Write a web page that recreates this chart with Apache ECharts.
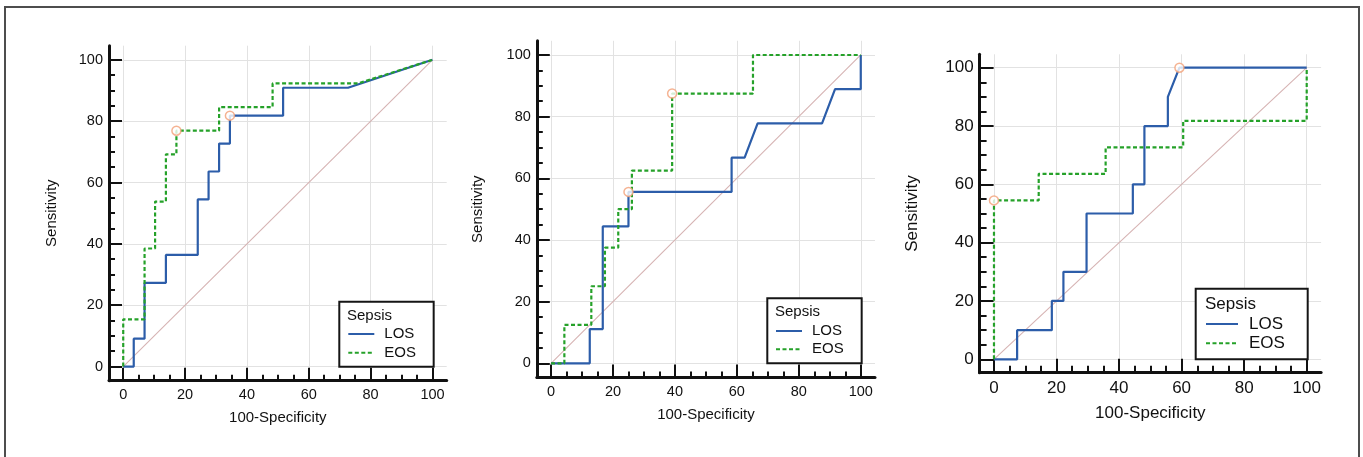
<!DOCTYPE html>
<html>
<head>
<meta charset="utf-8">
<script src="https://cdn.jsdelivr.net/npm/echarts@6/dist/echarts.min.js"></script>
<style>
  html, body { margin: 0; padding: 0; background: #ffffff; }
  #chart { width: 1363px; height: 457px; }
</style>
</head>
<body>
<div id="chart"></div>
<script>
// ROC curves (sensitivity against 100-specificity) for late- and early-onset sepsis, three panels.

const majorTicks = [0, 20, 40, 60, 80, 100];
const minorTicks = [5, 10, 15, 25, 30, 35, 45, 50, 55, 65, 70, 75, 85, 90, 95];
const legendNames = ['LOS', 'EOS'];
const legendTitle = 'Sepsis';
const xAxisName = '100-Specificity';
const yAxisName = 'Sensitivity';
const referenceLine = [[0, 0], [100, 100]];

// Panel 1
const panel1LOS = [[0, 0], [3.4, 0], [3.4, 9.1], [6.9, 9.1], [6.9, 27.3], [13.8, 27.3], [13.8, 36.4],
  [24.1, 36.4], [24.1, 54.5], [27.6, 54.5], [27.6, 63.6], [31.0, 63.6], [31.0, 72.7], [34.5, 72.7],
  [34.5, 81.8], [51.7, 81.8], [51.7, 90.9], [72.7, 90.9], [100, 100]];
const panel1EOS = [[0, 0], [0, 15.4], [6.9, 15.4], [6.9, 38.5], [10.3, 38.5], [10.3, 53.8], [13.8, 53.8],
  [13.8, 69.2], [17.2, 69.2], [17.2, 76.9], [31.0, 76.9], [31.0, 84.6], [48.3, 84.6], [48.3, 92.3],
  [75.9, 92.3], [100, 100]];
const panel1Cutoffs = [[17.2, 76.9], [34.5, 81.8]];

// Panel 2
const panel2LOS = [[0, 0], [12.5, 0], [12.5, 11.1], [16.7, 11.1], [16.7, 44.4], [25.0, 44.4], [25.0, 55.6],
  [58.3, 55.6], [58.3, 66.7], [62.5, 66.7], [66.7, 77.8], [87.5, 77.8], [91.7, 88.9], [100, 88.9], [100, 100]];
const panel2EOS = [[0, 0], [4.3, 0], [4.3, 12.5], [13.0, 12.5], [13.0, 25.0], [17.4, 25.0], [17.4, 37.5],
  [21.7, 37.5], [21.7, 50.0], [26.1, 50.0], [26.1, 62.5], [39.1, 62.5], [39.1, 87.5], [65.2, 87.5],
  [65.2, 100], [100, 100]];
const panel2Cutoffs = [[25.0, 55.6], [39.1, 87.5]];

// Panel 3
const panel3LOS = [[0, 0], [7.4, 0], [7.4, 10], [18.5, 10], [18.5, 20], [22.2, 20], [22.2, 30], [29.6, 30],
  [29.6, 50], [44.4, 50], [44.4, 60], [48.1, 60], [48.1, 80], [55.6, 80], [55.6, 90], [59.3, 100], [100, 100]];
const panel3EOS = [[0, 0], [0, 54.5], [14.3, 54.5], [14.3, 63.6], [35.7, 63.6], [35.7, 72.7], [60.5, 72.7],
  [60.5, 81.8], [100, 81.8], [100, 100]];
const panel3Cutoffs = [[59.3, 100], [0, 54.5]];

// Styling and placement
const AXIS_MIN = -4.6;
const AXIS_MAX = 104.6;
const FONT = "'Liberation Sans', Arial, sans-serif";
const INK = '#111111';
const LOS_COLOR = '#2c5da9';
const EOS_COLOR = '#25a129';

const panels = [
  {
    los: panel1LOS, eos: panel1EOS, cut: panel1Cutoffs,
    grid: { left: 109, top: 45.7, width: 337.7, height: 335 },
    tickFont: 14.5, nameFont: 15, yNameGap: 50, xNameGap: 30, majorLen: 13, minorLen: 6,
    legend: { left: 339.3, top: 301.7, padding: [24.8, 17.7, 6.5, 8], itemWidth: 26, itemGap: 3.7, textPad: 5, font: 15 },
    title: { left: 347, top: 308.5, font: 15 }
  },
  {
    los: panel2LOS, eos: panel2EOS, cut: panel2Cutoffs,
    grid: { left: 536.8, top: 40.8, width: 338.2, height: 336.7 },
    tickFont: 14.5, nameFont: 15, yNameGap: 51, xNameGap: 30, majorLen: 13, minorLen: 6,
    legend: { left: 767.3, top: 298.3, padding: [25.2, 18, 6.5, 7.7], itemWidth: 26, itemGap: 3.3, textPad: 5, font: 15 },
    title: { left: 775, top: 304.8, font: 15 }
  },
  {
    los: panel3LOS, eos: panel3EOS, cut: panel3Cutoffs,
    grid: { left: 979.6, top: 54.3, width: 341.5, height: 318.4 },
    tickFont: 17, nameFont: 17, yNameGap: 59, xNameGap: 32, majorLen: 14, minorLen: 7,
    legend: { left: 1195.7, top: 288.7, padding: [26.8, 22.8, 7.5, 9.3], itemWidth: 32, itemGap: 2.3, textPad: 6, font: 17 },
    title: { left: 1205, top: 295.8, font: 17 }
  }
];

function mainAxis(p, idx, dim) {
  const isX = dim === 'x';
  return {
    type: 'value', gridIndex: idx, min: AXIS_MIN, max: AXIS_MAX,
    position: isX ? 'bottom' : 'left',
    name: isX ? xAxisName : yAxisName,
    nameLocation: 'middle',
    nameGap: isX ? p.xNameGap : p.yNameGap,
    nameTextStyle: { fontFamily: FONT, fontSize: p.nameFont, color: INK },
    axisLine: { show: true, onZero: false, lineStyle: { color: '#111', width: 3 } },
    axisTick: { show: true, inside: true, length: p.majorLen, customValues: majorTicks, lineStyle: { color: '#111', width: 2 } },
    axisLabel: { show: true, customValues: majorTicks, margin: isX ? 7 : 6, fontFamily: FONT, fontSize: p.tickFont, color: INK },
    splitLine: { show: true, lineStyle: { color: '#e2e2e2', width: 1 } },
    minorTick: { show: false },
    minorSplitLine: { show: false }
  };
}

function minorAxis(p, idx, dim) {
  const isX = dim === 'x';
  return {
    type: 'value', gridIndex: idx, min: AXIS_MIN, max: AXIS_MAX,
    position: isX ? 'bottom' : 'left',
    axisLine: { show: false, onZero: false },
    axisTick: { show: true, inside: true, length: p.minorLen, customValues: minorTicks, lineStyle: { color: '#111', width: 2 } },
    axisLabel: { show: false },
    splitLine: { show: false }
  };
}

const grid = [], xAxis = [], yAxis = [], series = [], legend = [], title = [];

panels.forEach((p, i) => {
  grid.push(Object.assign({ containLabel: false, outerBoundsMode: 'none' }, p.grid));
  xAxis.push(mainAxis(p, i, 'x'), minorAxis(p, i, 'x'));
  yAxis.push(mainAxis(p, i, 'y'), minorAxis(p, i, 'y'));
  const ax = { xAxisIndex: 2 * i, yAxisIndex: 2 * i };

  series.push(Object.assign({
    type: 'line', data: referenceLine, symbol: 'none', silent: true, z: 1,
    lineStyle: { color: '#d6b3b3', width: 1.1 }
  }, ax));
  series.push(Object.assign({
    name: 'LOS', type: 'line', data: p.los, symbol: 'none', z: 2,
    lineStyle: { color: LOS_COLOR, width: 2.2 }, itemStyle: { color: LOS_COLOR }
  }, ax));
  series.push(Object.assign({
    name: 'EOS', type: 'line', data: p.eos, symbol: 'none', z: 3,
    lineStyle: { color: EOS_COLOR, width: 2.2, type: [4, 2.5] }, itemStyle: { color: EOS_COLOR }
  }, ax));
  series.push(Object.assign({
    type: 'scatter', data: p.cut, symbol: 'circle', symbolSize: 9, z: 5, silent: true,
    itemStyle: { color: '#ffffff', borderColor: '#f2a078', borderWidth: 1.5 }
  }, ax));

  legend.push({
    data: legendNames, orient: 'vertical', selectedMode: false,
    left: p.legend.left, top: p.legend.top, padding: p.legend.padding,
    itemWidth: p.legend.itemWidth, itemHeight: 14, itemGap: p.legend.itemGap,
    // line-only keys: hide the marker that line series add to their legend icon
    itemStyle: { opacity: 0 },
    borderColor: '#151515', borderWidth: 2, backgroundColor: '#ffffff',
    textStyle: { fontFamily: FONT, fontSize: p.legend.font, color: INK, padding: [0, 0, 0, p.legend.textPad] }
  });
  title.push({
    text: legendTitle, left: p.title.left, top: p.title.top, padding: 0, z: 10,
    textStyle: { fontFamily: FONT, fontSize: p.title.font, fontWeight: 'normal', color: INK }
  });
});

const chart = echarts.init(document.getElementById('chart'), null, { renderer: 'canvas' });
chart.setOption({
  animation: false,
  backgroundColor: '#ffffff',
  textStyle: { fontFamily: FONT },
  grid, xAxis, yAxis, series, legend, title,
  graphic: [{
    type: 'rect', silent: true, z: 100,
    shape: { x: 5, y: 7, width: 1354, height: 480 },
    style: { fill: 'none', stroke: '#4d4d4d', lineWidth: 2 }
  }]
});
</script>
</body>
</html>
